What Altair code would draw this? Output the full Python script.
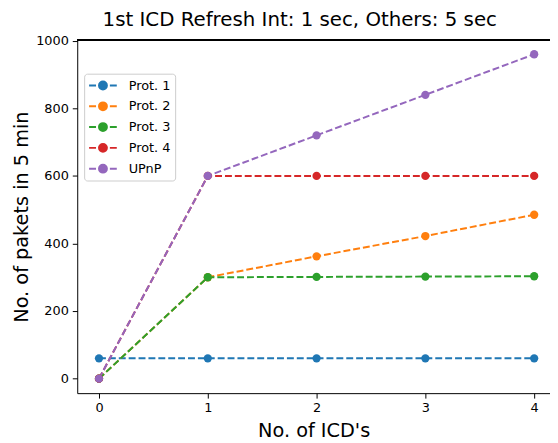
import altair as alt
import pandas as pd

x_vals = [0, 1, 2, 3, 4]
series_names = ["Prot. 1", "Prot. 2", "Prot. 3", "Prot. 4", "UPnP"]
prot1 = [60, 60, 60, 60, 60]
prot2 = [0, 300, 362, 422, 485]
prot3 = [0, 300, 301, 302, 303]
prot4 = [0, 600, 600, 600, 600]
upnp = [0, 600, 720, 840, 960]
colors = ["#1f77b4", "#ff7f0e", "#2ca02c", "#d62728", "#9467bd"]

rows = []
for name, vals in zip(series_names, [prot1, prot2, prot3, prot4, upnp]):
    for xv, yv in zip(x_vals, vals):
        rows.append({"x": xv, "y": yv, "series": name})
df = pd.DataFrame(rows)

W, H = 478, 357
FONT = "DejaVu Sans"

sym = ("M-1,0H0M0.35,0H1.65M2,0H3"
       "M1.57,0A0.57,0.57,0,1,1,0.43,0A0.57,0.57,0,1,1,1.57,0Z")

xs = alt.X("x:Q", scale=alt.Scale(domain=[-0.2, -0.2 + W / 110.0], nice=False, zero=False),
           axis=alt.Axis(values=x_vals, format="d", title="No. of ICD's", grid=False,
                         tickSize=5, labelPadding=4, titlePadding=7))
ys = alt.Y("y:Q", scale=alt.Scale(domain=[-43, 1002], nice=False, zero=False),
           axis=alt.Axis(values=[0, 200, 400, 600, 800, 1000], format="d",
                         title="No. of pakets in 5 min",
                         grid=False, tickSize=5, labelPadding=4, titlePadding=4))
col = alt.Color("series:N", scale=alt.Scale(domain=series_names, range=colors),
                legend=alt.Legend(title=None, orient="none", legendX=7, legendY=34,
                                  symbolType=sym, symbolSize=196, symbolStrokeWidth=2,
                                  labelFontSize=13, labelFont=FONT, rowPadding=5,
                                  padding=4, strokeColor="#cccccc", fillColor="white",
                                  cornerRadius=3, labelOffset=25, labelColor="black"))

lines = alt.Chart(df).mark_line(strokeDash=[7, 3], strokeWidth=2, clip=True).encode(
    x=xs, y=ys, color=col, order="x:Q")
points = alt.Chart(df).mark_point(filled=True, size=70, opacity=1, clip=True).encode(
    x=xs, y=ys, color=col)
frame = alt.Chart(df).mark_rule(color="black", strokeWidth=1).encode(
    x=alt.value(0), x2=alt.value(W), y=alt.value(0))

chart = alt.layer(lines, points, frame).properties(
    width=W, height=H,
    autosize=alt.AutoSizeParams(type="none"),
    padding={"left": 70, "top": 30, "right": 0, "bottom": 50},
    title=alt.TitleParams("1st ICD Refresh Int: 1 sec, Others: 5 sec", fontSize=20,
                          font=FONT, fontWeight="normal", offset=5, dx=-14, color="black"),
).configure_view(stroke=None).configure_axis(
    labelFont=FONT, titleFont=FONT, labelFontSize=13, titleFontSize=19.5,
    titleFontWeight="normal", labelColor="black", titleColor="black",
    domainColor="black", tickColor="black", domainWidth=1
)

chart.save("out.html", embed_options={"renderer": "svg", "actions": False})
